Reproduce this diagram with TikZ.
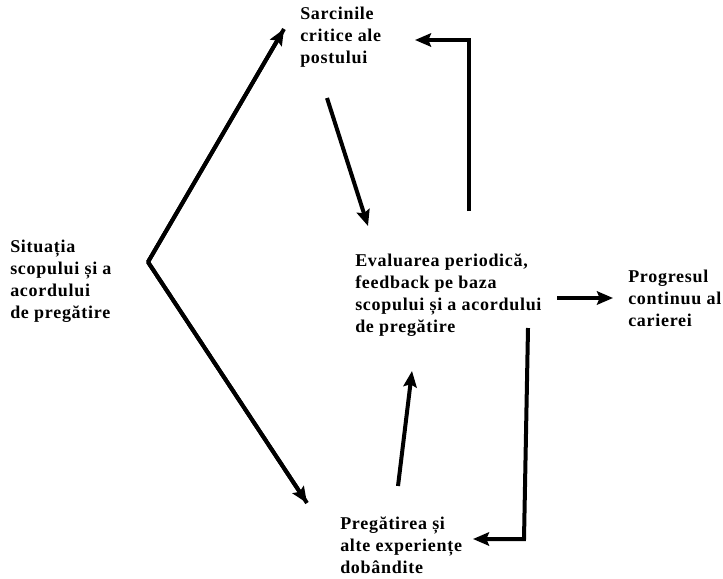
\documentclass[tikz,border=0pt]{standalone}
\usepackage{fontspec}
\setmainfont{Liberation Serif}
\usetikzlibrary{arrows.meta}
\begin{document}
\begin{tikzpicture}[x=0.75pt,y=-0.75pt,
  lbl/.style={anchor=north west,inner sep=0pt,align=left,
    font=\bfseries\fontsize{13.5pt}{16.5pt}\selectfont\addfontfeature{LetterSpace=4}},
  conn/.style={line width=3pt,-{Stealth[length=12pt,width=10pt,inset=2pt]}},
  seg/.style={line width=3pt,line join=round}]
\useasboundingbox (0,0) rectangle (723,578);
\node[lbl] (sit) at (10,240) {Situația\\scopului și a\\acordului\\de pregătire};
\node[lbl] (sar) at (300,7) {Sarcinile\\critice ale\\postului};
\node[lbl] (eva) at (355,254) {Evaluarea periodică,\\feedback pe baza\\scopului și a acordului\\de pregătire};
\node[lbl] (pro) at (628,270) {Progresul\\continuu al\\carierei};
\node[lbl] (pre) at (340,517) {Pregătirea și\\alte experiențe\\dobândite};
% coordinates
\coordinate (apex) at (148,262);
\coordinate (sarT) at (284,29);
\coordinate (preT) at (307,503);
\coordinate (sarB) at (327,98);
\coordinate (evaT) at (368,226);
\coordinate (loopA) at (469,211);
\coordinate (loopB) at (469,40);
\coordinate (sarR) at (415,40);
\coordinate (evaR) at (557,298);
\coordinate (proL) at (613,298);
\coordinate (evaB) at (528,328);
\coordinate (loopC) at (524,539);
\coordinate (preR) at (473,539);
\coordinate (preU) at (398,486);
\coordinate (evaU) at (412,371);
% connectors
\draw[seg] (sarT) -- (apex) -- (preT);
\draw[conn] (apex) -- (sarT);
\draw[conn] (apex) -- (preT);
\draw[conn] (sarB) -- (evaT);
\draw[conn,line join=miter] (loopA) -- (loopB) -- (sarR);
\draw[conn] (evaR) -- (proL);
\draw[conn,line join=miter] (evaB) -- (loopC) -- (preR);
\draw[conn] (preU) -- (evaU);
\end{tikzpicture}
\end{document}
